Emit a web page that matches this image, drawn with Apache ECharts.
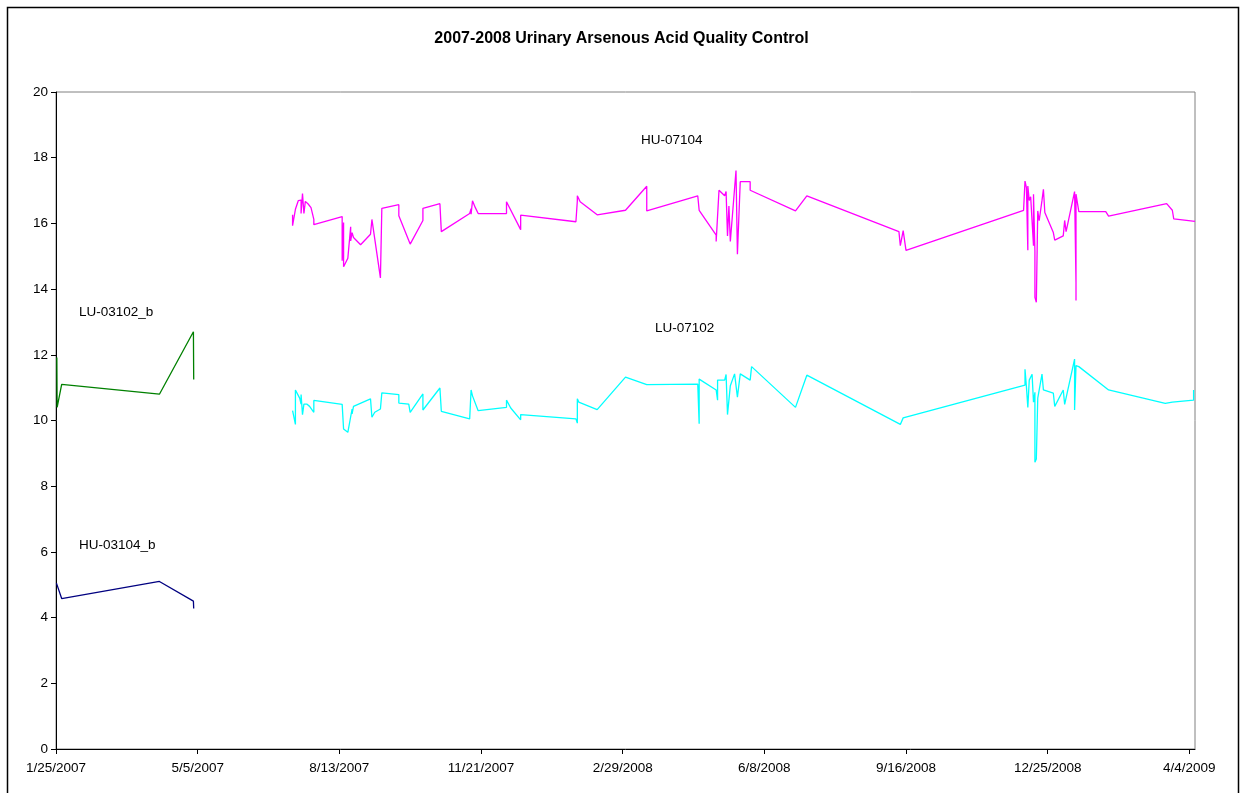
<!DOCTYPE html>
<html>
<head>
<meta charset="utf-8">
<script src="https://cdn.jsdelivr.net/npm/echarts@6/dist/echarts.min.js"></script>
<style>html,body{margin:0;padding:0;background:#fff}#c{width:1243px;height:793px}</style>
</head>
<body>
<div id="c"></div>
<script>
// x values: days since 1/25/2007
const startDate = [2007, 0, 25];
const seriesNames = ['HU-07104', 'LU-07102', 'LU-03102_b', 'HU-03104_b'];

const hu07104Days = [167,167,169,171,173,173,174,175,176,178,180,182,182,202,202,203,203,206,208,208,209,210,215,222,223,224,229,230,242,242,250,259,259,271,272,292,293,293,294,296,298,318,318,328,328,367,368,368,370,382,402,417,417,453,454,466,466,468,472,473,474,475,476,480,481,483,490,490,522,530,595,596,598,600,683,684,685,686,686,687,688,690,690,691,691,692,693,694,696,697,698,704,705,711,712,713,719,720,720,720,722,741,743,784,788,789,804];
const hu07104Vals = [16.26,15.93,16.43,16.69,16.71,16.30,16.91,16.30,16.67,16.59,16.48,16.12,15.96,16.21,14.86,16.03,14.68,14.94,15.90,15.47,15.72,15.57,15.35,15.67,16.12,16.12,14.34,16.46,16.57,16.23,15.37,16.09,16.46,16.60,15.75,16.30,16.45,16.28,16.69,16.48,16.30,16.30,16.66,15.81,16.25,16.05,16.69,16.84,16.66,16.26,16.40,17.13,16.38,16.84,16.40,15.64,15.45,17.01,16.84,16.97,15.62,16.53,15.45,17.61,15.06,17.27,17.27,17.01,16.38,16.84,15.75,15.32,15.78,15.18,16.40,17.29,17.09,15.18,17.14,16.70,16.81,15.32,16.89,15.17,13.75,13.60,16.38,16.08,16.70,17.04,16.33,15.72,15.49,15.62,16.09,15.75,16.97,14.20,13.65,16.89,16.36,16.36,16.22,16.60,16.40,16.14,16.06];

const lu07102Days = [167,169,169,172,173,173,174,175,177,179,182,182,202,203,206,209,209,210,222,223,225,229,230,242,242,249,250,259,259,271,272,292,293,294,298,318,318,321,328,328,367,368,368,369,382,402,417,453,454,454,466,467,467,472,473,474,476,479,481,483,490,491,522,530,596,598,684,684,685,686,687,689,690,691,691,692,693,696,697,704,705,711,712,719,719,720,722,743,783,788,803,803];
const lu07102Vals = [10.30,9.88,10.93,10.68,10.50,10.79,10.18,10.50,10.50,10.43,10.25,10.61,10.49,9.74,9.64,10.35,10.20,10.43,10.66,10.10,10.25,10.35,10.84,10.79,10.53,10.50,10.25,10.81,10.32,10.99,10.28,10.05,10.93,10.75,10.30,10.40,10.62,10.38,10.02,10.18,10.05,9.92,10.66,10.56,10.33,11.32,11.09,11.11,9.90,11.26,10.93,10.62,11.23,11.23,11.40,10.18,11.06,11.42,10.71,11.42,11.23,11.64,10.40,11.38,9.88,10.08,11.08,11.56,11.03,10.40,11.23,11.41,10.56,10.86,8.73,8.83,10.68,11.41,10.93,10.83,10.43,10.93,10.49,11.87,10.32,11.67,11.64,10.93,10.52,10.56,10.62,10.93];

const lu03102Days = [0.6,0.8,4,73,97,97.2];
const lu03102Vals = [11.92,10.40,11.10,10.80,12.70,11.25];

const hu03104Days = [0.3,4,73,97,97.2];
const hu03104Vals = [5.05,4.58,5.10,4.50,4.28];

const yTicks = [0,2,4,6,8,10,12,14,16,18,20];

function pairs(d, v) { return d.map((x, i) => [x, v[i]]); }
function dayLabel(v) {
  const t = Date.UTC(startDate[0], startDate[1], startDate[2]) + Math.round(v) * 86400000;
  const d = new Date(t);
  return (d.getUTCMonth() + 1) + '/' + d.getUTCDate() + '/' + d.getUTCFullYear();
}

const font = 'Liberation Sans, Arial, sans-serif';
const chart = echarts.init(document.getElementById('c'), null, {renderer: 'canvas'});
const lineSeries = (name, d, v, color) => ({
  name, type: 'line', data: pairs(d, v), showSymbol: false, symbol: 'none',
  lineStyle: {color, width: 1.3}, itemStyle: {color}, animation: false, z: 3, clip: false
});

chart.setOption({
  animation: false,
  backgroundColor: '#fff',
  title: {
    text: '2007-2008 Urinary Arsenous Acid Quality Control',
    left: 'center', top: 26,
    textStyle: {fontFamily: font, fontSize: 16, fontWeight: 'bold', color: '#000'}
  },
  grid: {left: 56, right: 48, top: 92, bottom: 44, show: true, borderColor: '#808080', borderWidth: 1, backgroundColor: '#fff'},
  xAxis: {
    type: 'value', min: 0, max: 804, interval: 100,
    axisLine: {lineStyle: {color: '#000', width: 1}},
    axisTick: {show: true, inside: false, length: 5, lineStyle: {color: '#000'}},
    axisLabel: {formatter: dayLabel, fontFamily: font, fontSize: 13.5, color: '#000', margin: 12, showMaxLabel: false},
    splitLine: {show: false}
  },
  yAxis: {
    type: 'value', min: yTicks[0], max: yTicks[yTicks.length - 1], interval: 2,
    axisLine: {show: true, lineStyle: {color: '#000', width: 1}},
    axisTick: {show: true, inside: false, length: 5, lineStyle: {color: '#000'}},
    axisLabel: {fontFamily: font, fontSize: 13.5, color: '#000', margin: 8},
    splitLine: {show: false}
  },
  series: [
    lineSeries(seriesNames[0], hu07104Days, hu07104Vals, '#FF00FF'),
    lineSeries(seriesNames[1], lu07102Days, lu07102Vals, '#00FFFF'),
    lineSeries(seriesNames[2], lu03102Days, lu03102Vals, '#008000'),
    lineSeries(seriesNames[3], hu03104Days, hu03104Vals, '#000080')
  ],
  graphic: [
    {type: 'rect', shape: {x: 7.5, y: 7.5, width: 1231, height: 820}, style: {fill: null, stroke: '#000', lineWidth: 1.5}, silent: true, z: 0},
    {type: 'text', left: 641, top: 133, style: {text: seriesNames[0], font: '13.5px ' + font, fill: '#000'}},
    {type: 'text', left: 655, top: 321, style: {text: seriesNames[1], font: '13.5px ' + font, fill: '#000'}},
    {type: 'text', left: 79, top: 305, style: {text: seriesNames[2], font: '13.5px ' + font, fill: '#000'}},
    {type: 'text', left: 79, top: 538, style: {text: seriesNames[3], font: '13.5px ' + font, fill: '#000'}}
  ]
});
</script>
</body>
</html>
